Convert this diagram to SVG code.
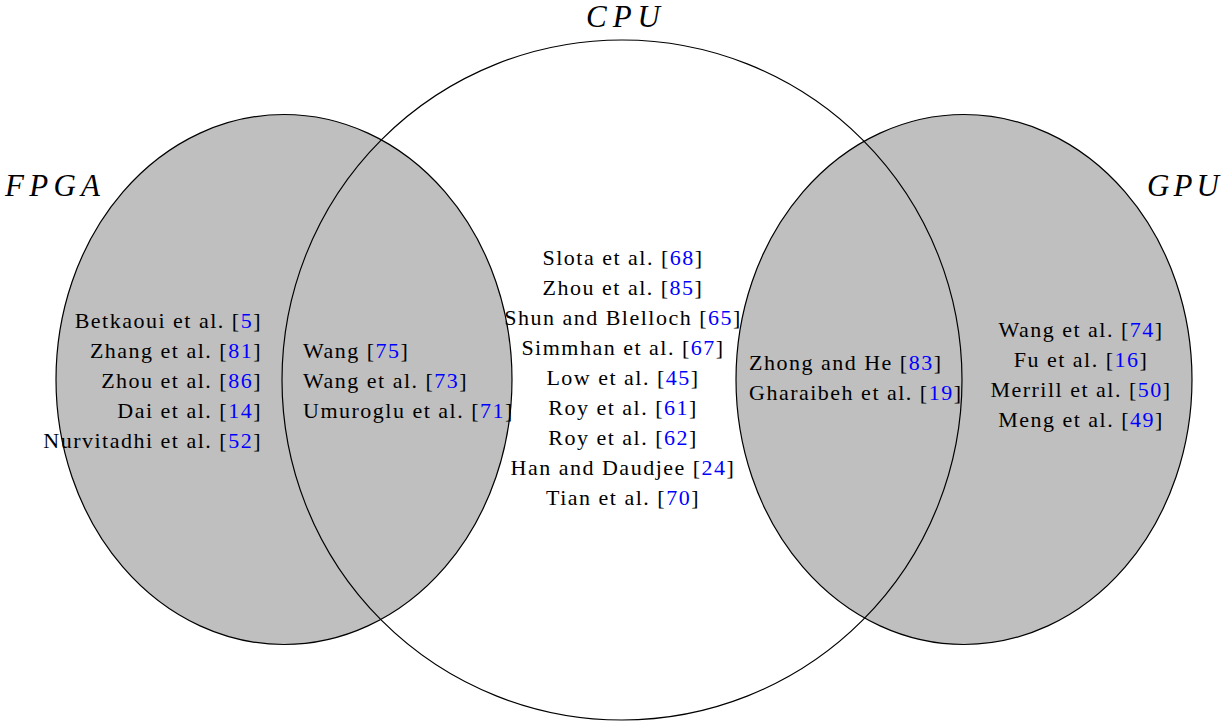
<svg xmlns="http://www.w3.org/2000/svg" width="1231" height="721" viewBox="0 0 1231 721">
<style>
.set{fill:#bfbfbf;stroke:#000;stroke-width:1.2}
.cpu{fill:none;stroke:#000;stroke-width:1.2}
text{font-family:"Liberation Serif","DejaVu Serif",serif;font-size:22px;letter-spacing:1.5px;fill:#000}
.lbl{font-style:italic;font-size:31px;letter-spacing:0}
.c{fill:#0000ff}
.r{text-anchor:end}
.m{text-anchor:middle}
</style>
<rect width="1231" height="721" fill="#fff"/>
<g id="fpga">
<ellipse class="set" cx="284" cy="379.5" rx="228" ry="265"/>
</g>
<g id="gpu">
<ellipse class="set" cx="964" cy="379.5" rx="228" ry="265"/>
</g>
<g id="cpu">
<circle class="cpu" cx="622" cy="380" r="340"/>
</g>
<g id="labels">
<text class="lbl" x="5" y="196" textLength="95" lengthAdjust="spacing">FPGA</text>
<text class="lbl" x="586" y="27" textLength="74" lengthAdjust="spacing">CPU</text>
<text class="lbl" x="1147" y="196" textLength="72" lengthAdjust="spacing">GPU</text>
</g>
<g id="fpga-only">
<text class="r" x="262" y="328">Betkaoui et al. [<tspan class="c">5</tspan>]</text>
<text class="r" x="262" y="358">Zhang et al. [<tspan class="c">81</tspan>]</text>
<text class="r" x="262" y="388">Zhou et al. [<tspan class="c">86</tspan>]</text>
<text class="r" x="262" y="418">Dai et al. [<tspan class="c">14</tspan>]</text>
<text class="r" x="262" y="448">Nurvitadhi et al. [<tspan class="c">52</tspan>]</text>
</g>
<g id="fpga-cpu">
<text x="303" y="358">Wang [<tspan class="c">75</tspan>]</text>
<text x="303" y="388">Wang et al. [<tspan class="c">73</tspan>]</text>
<text x="303" y="418">Umuroglu et al. [<tspan class="c">71</tspan>]</text>
</g>
<g id="cpu-only">
<text class="m" x="623" y="265">Slota et al. [<tspan class="c">68</tspan>]</text>
<text class="m" x="623" y="295">Zhou et al. [<tspan class="c">85</tspan>]</text>
<text class="m" x="623" y="325">Shun and Blelloch [<tspan class="c">65</tspan>]</text>
<text class="m" x="623" y="355">Simmhan et al. [<tspan class="c">67</tspan>]</text>
<text class="m" x="623" y="385">Low et al. [<tspan class="c">45</tspan>]</text>
<text class="m" x="623" y="415">Roy et al. [<tspan class="c">61</tspan>]</text>
<text class="m" x="623" y="445">Roy et al. [<tspan class="c">62</tspan>]</text>
<text class="m" x="623" y="475">Han and Daudjee [<tspan class="c">24</tspan>]</text>
<text class="m" x="623" y="505">Tian et al. [<tspan class="c">70</tspan>]</text>
</g>
<g id="cpu-gpu">
<text x="749" y="370">Zhong and He [<tspan class="c">83</tspan>]</text>
<text x="749" y="400">Gharaibeh et al. [<tspan class="c">19</tspan>]</text>
</g>
<g id="gpu-only">
<text class="m" x="1081" y="337">Wang et al. [<tspan class="c">74</tspan>]</text>
<text class="m" x="1081" y="367">Fu et al. [<tspan class="c">16</tspan>]</text>
<text class="m" x="1081" y="397">Merrill et al. [<tspan class="c">50</tspan>]</text>
<text class="m" x="1081" y="427">Meng et al. [<tspan class="c">49</tspan>]</text>
</g>
</svg>
